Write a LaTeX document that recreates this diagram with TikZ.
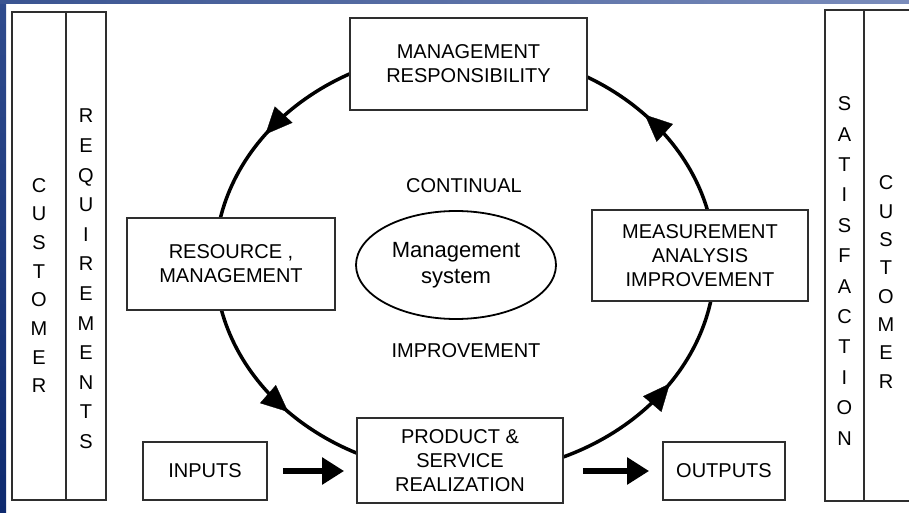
\documentclass[tikz,border=0pt]{standalone}
\usepackage{fontspec}
\setmainfont{Liberation Sans}
\usetikzlibrary{arrows.meta,shapes.geometric}
\definecolor{boxline}{HTML}{2E2E2E}
\definecolor{bluetop}{HTML}{2F4B8D}
\definecolor{bluebot}{HTML}{0E2A6F}
\definecolor{stripL}{HTML}{3A5491}
\definecolor{stripR}{HTML}{7A8CBB}
\newcommand\ringpt[1]{({465+250*cos(#1)},{262-212*sin(#1)})}
\newcommand\ringarrow[1]{\draw[line width=0.3pt,-{Triangle[length=27pt,width=24pt]}] \ringpt{#1-2} -- \ringpt{#1};}
\begin{document}
\begin{tikzpicture}[x=1pt,y=-1pt,
  txt/.style={font=\fontsize{20}{24}\selectfont, align=center, inner sep=0pt},
  box/.style={txt, draw=boxline, line width=1.8pt, fill=white},
  col/.style={draw=boxline, line width=1.8pt, inner sep=0pt},
  vtext/.style={align=center, inner sep=0pt, font=\fontsize{20}{#1}\selectfont},
  ring/.style={draw=black, line width=3.5pt},
  flow/.style={line width=6pt, -{Triangle[length=22pt,width=26pt]}}]
\useasboundingbox (0,0) rectangle (909,513);
\fill[white] (0,0) rectangle (909,513);
\shade[top color=bluetop, bottom color=bluebot] (0,0) rectangle (6,513);
\shade[left color=stripL, right color=stripR] (0,0) rectangle (909,3.5);

% side columns
\node[col, minimum width=54pt, minimum height=488pt] (custcolL) at (39,256) {};
\node[col, minimum width=40pt, minimum height=488pt] (reqcol) at (86,256) {};
\node[col, minimum width=39pt, minimum height=491pt] (satcol) at (844.5,255.5) {};
\node[col, minimum width=66pt, minimum height=491pt] (custcolR) at (897,255.5) {};
\node[vtext=28.7] (custL) at (39,285.5) {C\\U\\S\\T\\O\\M\\E\\R};
\node[vtext=29.6] (req) at (86,279) {R\\E\\Q\\U\\I\\R\\E\\M\\E\\N\\T\\S};
\node[vtext=30.4] (sat) at (844.5,271) {S\\A\\T\\I\\S\\F\\A\\C\\T\\I\\O\\N};
\node[vtext=28.3] (custR) at (886,282) {C\\U\\S\\T\\O\\M\\E\\R};

% ring
\draw[ring] (465,262) ellipse [x radius=250pt, y radius=212pt];
\ringarrow{143}
\ringarrow{225}
\ringarrow{325}
\ringarrow{44}

% boxes
\node[box, minimum width=237pt, minimum height=92pt] (mgmt) at (468.5,64) {MANAGEMENT\\RESPONSIBILITY};
\node[box, minimum width=208pt, minimum height=92pt] (res) at (231,264) {RESOURCE ,\\MANAGEMENT};
\node[box, minimum width=216pt, minimum height=91pt] (meas) at (700,255.5) {MEASUREMENT\\ANALYSIS\\IMPROVEMENT};
\node[box, minimum width=206pt, minimum height=85pt] (prod) at (460,460.5) {PRODUCT \&\\SERVICE\\REALIZATION};
\node[box, minimum width=124pt, minimum height=58pt] (in) at (205,471) {INPUTS};
\node[box, minimum width=122pt, minimum height=58pt] (out) at (724,471) {OUTPUTS};
\node[ellipse, draw=black, line width=1.8pt, minimum width=200pt, minimum height=108pt, inner sep=0pt, align=center, font=\fontsize{22}{26}\selectfont] (ms) at (456,265) {Management\\system};
\node[txt] (cont) at (464,186) {CONTINUAL};
\node[txt] (impr) at (466,351) {IMPROVEMENT};

% flow arrows
\draw[flow, shorten <=15pt, shorten >=12pt] (in) -- (in -| prod.west);
\draw[flow, shorten <=19pt, shorten >=13pt] (prod.east |- out) -- (out);
\end{tikzpicture}
\end{document}
